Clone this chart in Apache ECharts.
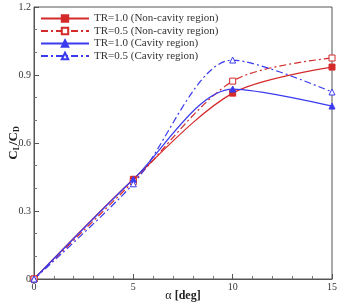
<!DOCTYPE html>
<html>
<head>
<meta charset="utf-8">
<script src="https://cdn.jsdelivr.net/npm/echarts@6/dist/echarts.min.js"></script>
<style>
html,body{margin:0;padding:0;background:#fff;}
#chart{width:342px;height:304px;}
</style>
</head>
<body>
<div id="chart"></div>
<script>
var alpha = [0, 5, 10, 15];
var names = ['TR=1.0 (Non-cavity region)', 'TR=0.5 (Non-cavity region)', 'TR=1.0 (Cavity region)', 'TR=0.5 (Cavity region)'];
var tr10Non = [0, 0.44, 0.82, 0.935];
var tr05Non = [0, 0.43, 0.873, 0.975];
var tr10Cav = [0, 0.44, 0.838, 0.763];
var tr05Cav = [0, 0.42, 0.966, 0.825];

var red = '#d42a2a', blue = '#3a3aee';
var font = 'Liberation Serif';

function pairs(vals) {
    return alpha.map(function (a, i) { return [a, vals[i]]; });
}

function mk(name, vals, color, dashed, symbol, filled) {
    return {
        name: name,
        type: 'line',
        smooth: 0.3,
        data: pairs(vals),
        symbol: symbol,
        symbolSize: 6,
        showAllSymbol: true,
        lineStyle: { color: color, width: 1.2, type: dashed ? [7, 3, 2, 3] : 'solid' },
        itemStyle: { color: filled ? color : '#fff', borderColor: color, borderWidth: 1 },
        emphasis: { disabled: true }
    };
}

var myChart = echarts.init(document.getElementById('chart'));
var option = {
    animation: false,
    textStyle: { fontFamily: font },
    grid: { left: 34, right: 10, top: 7, bottom: 25, outerBoundsMode: 'none', show: true, borderColor: '#555', borderWidth: 1 },
    legend: {
        orient: 'vertical',
        left: 40, top: 13, padding: 0,
        itemWidth: 48, itemHeight: 8, itemGap: 1.5,
        textStyle: { fontFamily: font, fontSize: 11, color: '#333' },
        data: names
    },
    xAxis: {
        type: 'value', min: 0, max: 15, interval: 5,
        axisLine: { lineStyle: { color: '#555' } },
        axisTick: { inside: true, length: 5, lineStyle: { color: '#555' } },
        minorTick: { show: true, splitNumber: 5, length: 3, lineStyle: { color: '#777' } },
        splitLine: { show: false },
        axisLabel: { color: '#333', fontFamily: font, fontSize: 10, margin: 3 },
        name: '{g|α} {b|[deg]}',
        nameLocation: 'middle', nameGap: 11, nameMoveOverlap: false,
        nameTextStyle: { rich: {
            g: { fontFamily: font, fontSize: 12, color: '#222' },
            b: { fontFamily: font, fontSize: 12, fontWeight: 'bold', color: '#222' }
        } }
    },
    yAxis: {
        type: 'value', min: 0, max: 1.2, interval: 0.3,
        axisLine: { lineStyle: { color: '#555' } },
        axisTick: { inside: true, length: 5, lineStyle: { color: '#555' } },
        minorTick: { show: true, splitNumber: 3, length: 3, lineStyle: { color: '#777' } },
        splitLine: { show: false },
        axisLabel: { color: '#333', fontFamily: font, fontSize: 10, margin: 3,
            formatter: function (v) { return v === 0 ? '0' : v.toFixed(1); } },
        name: '{b|C}{s|L}{b|/C}{s|D}',
        nameLocation: 'middle', nameGap: 13, nameRotate: 90, nameMoveOverlap: false,
        nameTextStyle: { rich: {
            b: { fontFamily: font, fontSize: 13, fontWeight: 'bold', color: '#222' },
            s: { fontFamily: font, fontSize: 8, fontWeight: 'bold', color: '#222', verticalAlign: 'bottom', padding: [6, 0, 0, 0] }
        } }
    },
    series: [
        mk(names[0], tr10Non, red, false, 'rect', true),
        mk(names[1], tr05Non, red, true, 'rect', false),
        mk(names[2], tr10Cav, blue, false, 'triangle', true),
        mk(names[3], tr05Cav, blue, true, 'triangle', false)
    ]
};
myChart.setOption(option);
</script>
</body>
</html>
